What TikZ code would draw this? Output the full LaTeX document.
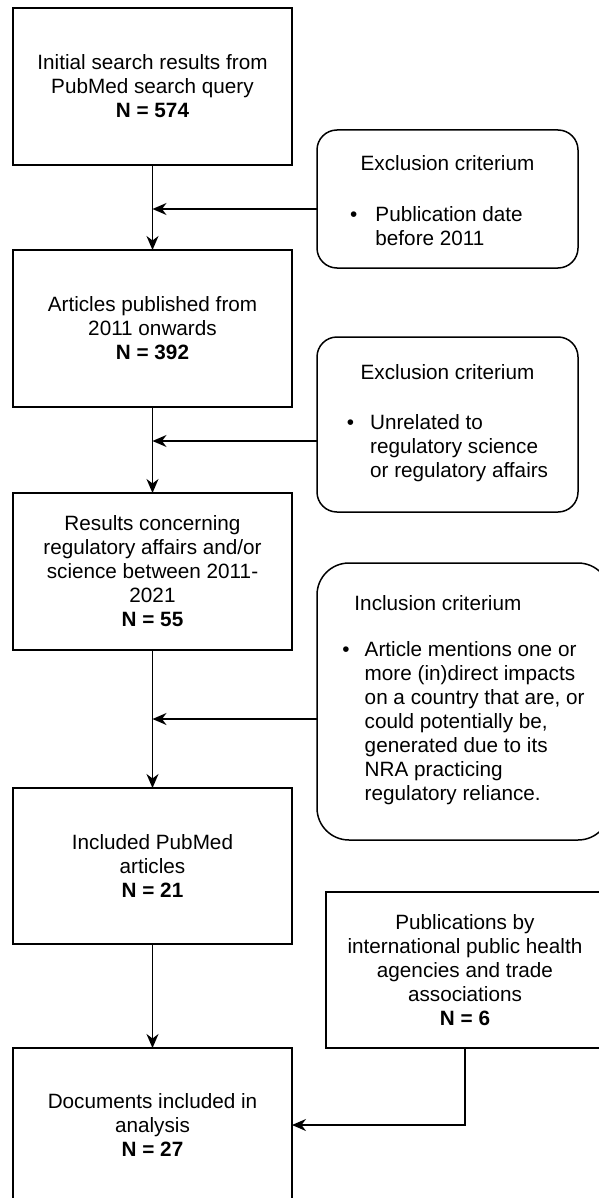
\documentclass[tikz,border=0pt]{standalone}
\usepackage{fontspec}
\setmainfont{Liberation Sans}
\usetikzlibrary{arrows.meta}

\begin{document}
\begin{tikzpicture}[x=1pt, y=-1pt,
        font=\fontsize{20.7}{24}\selectfont,
        box/.style={draw, line width=1.5pt, align=center, inner sep=0pt, outer sep=0pt, minimum width=279pt, minimum height=157pt},
        crit/.style={draw, line width=1.5pt, rounded corners=20pt, inner sep=0pt, outer sep=0pt, minimum width=261pt},
        flow/.style={line width=1.5pt, -{Stealth[length=14pt, width=12pt, inset=4.5pt]}}]
        \useasboundingbox (0,0) rectangle (599,1198);
        \clip (0,0) rectangle (599,1198);

        % Define node styles
        \node [box] (search) at (152.5,86.5) {Initial search results from\\PubMed search query\\\textbf{N = 574}};
        \node [box] (since) at (152.5,328.5) {Articles published from\\2011 onwards\\\textbf{N = 392}};
        \node [box] (regul) at (152.5,571.5) {Results concerning\\regulatory affairs and/or\\science between 2011-\\2021\\\textbf{N = 55}};
        \node [box, minimum height=156pt] (pubmed) at (152.5,866) {Included PubMed\\articles\\\textbf{N = 21}};
        \node [box, minimum height=154pt] (docs) at (152.5,1125) {Documents included in\\analysis\\\textbf{N = 27}};

        \node [crit, minimum height=138pt, align=center] (excl1) at (447.5,199) {\rule{0pt}{26pt}Exclusion criterium\\[27pt]\hspace*{-22pt}\begin{tabular}[t]{@{}l@{\hspace{18pt}}l@{}}\textbullet & Publication date\\ & before 2011\end{tabular}};
        \node [crit, minimum height=175pt, align=center] (excl2) at (447.5,424.5) {Exclusion criterium\\[26pt]\begin{tabular}[t]{@{}l@{\hspace{16pt}}l@{}}\textbullet & Unrelated to\\ & regulatory science\\ & or regulatory affairs\end{tabular}};
        \node [crit, rounded corners=32pt, minimum width=293pt, minimum height=277pt, align=left] (incl) at (463.5,701.5) {\hspace*{12pt}Inclusion criterium\\[22pt]\begin{tabular}[t]{@{}l@{\hspace{15pt}}l@{}}\textbullet & Article mentions one or\\ & more (in)direct impacts\\ & on a country that are, or\\ & could potentially be,\\ & generated due to its\\ & NRA practicing\\ & regulatory reliance.\end{tabular}};
        \node [box, minimum width=278pt, minimum height=156pt] (other) at (465,970) {Publications by\\international public health\\agencies and trade\\associations\\\textbf{N = 6}};

        \coordinate (j1) at (152.5,209);
        \coordinate (j2) at (152.5,441);
        \coordinate (j3) at (152.5,719);

        % Draw edges with arrowheads
        \draw [flow] (search) -- (since);
        \draw [flow] (since) -- (regul);
        \draw [flow] (regul) -- (pubmed);
        \draw [flow] (pubmed) -- (docs);
        \draw [flow] (excl1.west |- j1) -- (j1);
        \draw [flow] (excl2.west |- j2) -- (j2);
        \draw [flow] (incl.west |- j3) -- (j3);
        \draw [flow] (other.south) |- (docs.east);
    \end{tikzpicture}
\end{document}
